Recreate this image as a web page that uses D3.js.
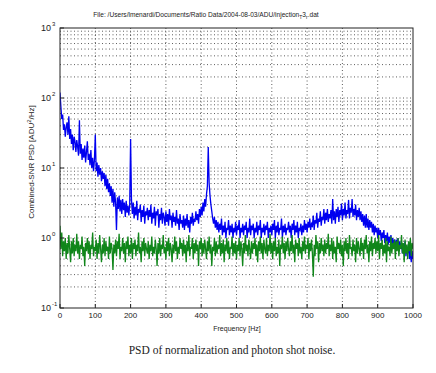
<!DOCTYPE html>
<html>
<head>
<meta charset="utf-8">
<script src="https://cdn.jsdelivr.net/npm/d3@7"></script>
<style>
  body { margin: 0; background: #fff; }
  text { font-family: "Liberation Sans", Arial, sans-serif; fill: #222; }
  .grid line { stroke: #333; stroke-width: 0.8; stroke-dasharray: 1,2.5; }
</style>
</head>
<body>
<svg id="chart" width="436" height="373" viewBox="0 0 436 373"></svg>
<script>
// sampling of the PSD (Hz)
const freqs = d3.range(0, 1000.1, 2.5);

// normalization PSD (blue), one row = 50 Hz
const bluePsd = [
  120,75,50,58,35,42,28,38,45,30,55,26,36,22,30,18,28,24,17,25,
  20,15,48,16,22,13,19,14,21,12,17,24,13,16,11,18,10,14,9,13,
  30,9,12,7.5,11,8,10,6.5,9,7,8.5,5.5,8,5,7,4.5,6,4,5.5,3.2,
  5,2.8,4.5,3.2,1.3,3.8,2.6,4,2.4,3.5,2.2,3.6,2.5,3.2,2,3.4,2.3,2.9,2.1,3,
  26,3.5,2.2,3.2,1.9,2.8,2.1,3.4,1.8,2.6,2.3,3,1.7,2.5,2,2.9,1.6,2.4,2.1,2.7,
  1.8,2.5,2,3,1.6,2.3,1.9,2.8,1.5,2.4,2.1,2.6,1.4,2.2,1.8,2.7,1.6,2.3,2,1.5,
  2.4,1.7,2.2,1.5,2.6,1.8,2.1,1.4,2.3,1.7,2,1.5,2.5,1.6,1.9,1.3,2.2,1.6,1.8,1.4,
  2.1,1.3,1.9,1.5,2.2,1.4,1.8,1.2,2,1.6,2.3,1.5,1.9,1.7,2.4,1.8,2.2,1.6,2.6,2,
  2.8,2.1,3.2,2.4,3.6,2.8,4.2,5.5,20,6,4,3,2.4,1.9,1.6,2,1.4,1.8,1.3,1.7,
  1.2,1.6,1.3,1.9,1.1,1.5,1.2,1.7,1,1.4,1.3,1.8,1.1,1.5,1.2,1.6,1,1.4,1.2,1.7,
  1.1,1.5,1.3,1.8,1,1.4,1.2,1.6,1.1,1.5,1.3,1.7,1,1.4,1.2,1.9,1.1,1.5,1.3,1.6,
  1,1.4,1.2,1.7,1.1,1.5,1.3,1.8,1,1.4,1.2,1.6,1.1,1.5,1.3,1.7,1,1.4,1.2,1.5,
  1.1,1.6,1.3,1.8,1,1.5,1.2,1.7,1.1,1.4,1.3,1.9,1,1.5,1.2,1.6,1.1,1.4,1.3,1.7,
  1.2,1.5,1,1.6,1.3,1.8,1.1,1.5,1.2,1.7,1,1.4,1.3,1.6,1.1,1.5,1.2,1.8,1.3,1.6,
  1.2,1.7,1.4,1.9,1.3,1.6,1.5,2.1,1.3,1.8,1.6,2.3,1.4,1.9,1.7,2.4,1.5,2,1.8,2.6,
  1.6,2.3,1.8,2.6,1.7,2.2,1.9,2.5,1.6,3.6,1.8,2.4,1.6,2.6,2,2.8,1.7,2.5,2.1,3.1,
  1.8,2.6,2.1,3.2,1.9,2.5,2.2,3.5,1.9,2.7,2.3,3.6,2,2.6,2.1,3.0,1.8,2.5,2,2.7,
  1.8,2.4,1.7,2.2,1.5,2.1,1.4,2.2,1.4,1.9,1.3,1.8,1.4,1.7,1.2,1.6,1.1,1.5,1.2,1.4,
  1,1.4,1.1,1.3,0.9,1.2,1,1.3,0.85,1.1,0.9,1.2,0.8,1.05,0.85,1.1,0.75,1,0.8,0.95,
  0.7,0.95,0.75,1,0.65,0.9,0.7,0.85,0.6,0.8,0.65,0.9,0.55,0.75,0.6,0.8,0.5,0.7,0.45,0.65,
  0.5
];

// photon shot noise PSD (green), one row = 50 Hz
const greenPsd = [
  1.5,0.7,1.2,0.55,0.9,0.65,1.0,0.5,0.85,0.6,1.1,0.7,0.45,0.9,0.6,1.0,0.55,0.8,0.65,1.15,
  0.6,0.9,0.5,0.8,0.7,1.05,0.55,0.75,0.4,0.85,0.65,1.0,0.6,0.9,0.5,0.8,0.7,1.2,0.55,0.75,
  0.65,0.95,0.5,0.85,0.6,1.1,0.7,0.45,0.8,0.6,1.0,0.55,0.9,0.65,0.75,0.5,1.05,0.6,0.85,0.7,
  0.35,0.8,0.6,0.95,0.55,0.9,0.7,1.15,0.5,0.75,0.65,1.0,0.6,0.85,0.45,0.9,0.7,1.05,0.55,0.8,
  0.6,1.0,0.5,0.85,0.7,0.95,0.55,0.8,0.65,1.2,0.6,0.75,0.45,0.9,0.65,1.0,0.55,0.85,0.7,0.6,
  0.9,0.5,0.8,0.65,1.05,0.55,0.75,0.6,0.95,0.7,0.4,0.85,0.6,1.0,0.55,0.8,0.7,1.1,0.6,0.75,
  0.5,0.9,0.65,1.0,0.55,0.85,0.7,0.45,0.8,0.6,1.05,0.65,0.9,0.5,0.75,0.6,1.0,0.7,0.85,0.55,
  0.95,0.6,0.8,0.45,0.9,0.65,1.1,0.55,0.75,0.7,1.0,0.5,0.85,0.6,0.95,0.65,0.8,0.4,0.9,0.7,
  1.0,0.55,0.85,0.6,0.95,0.7,0.5,0.9,0.65,1.05,0.6,0.8,0.4,0.75,0.65,1.0,0.55,0.9,0.6,0.8,
  0.7,1.1,0.55,0.85,0.6,0.95,0.45,0.8,0.65,1.0,0.6,0.9,0.5,0.75,0.7,1.05,0.55,0.85,0.6,0.9,
  0.5,0.8,0.65,1.0,0.55,0.9,0.7,0.4,0.85,0.6,1.1,0.65,0.8,0.55,0.95,0.7,0.5,0.9,0.6,0.85,
  0.7,1.0,0.55,0.8,0.45,0.9,0.65,1.05,0.6,0.85,0.5,0.95,0.7,0.6,1.0,0.55,0.8,0.65,1.15,0.6,
  0.85,0.5,0.9,0.65,1.0,0.55,0.75,0.6,0.95,0.4,0.8,0.7,1.05,0.6,0.85,0.5,0.9,0.65,1.0,0.7,
  0.55,0.9,0.65,1.1,0.6,0.8,0.45,0.95,0.7,0.85,0.55,1.0,0.6,0.75,0.5,0.9,0.65,1.05,0.6,0.8,
  0.7,1.0,0.5,0.85,0.65,0.95,0.6,0.28,0.8,0.55,1.1,0.7,0.9,0.45,0.85,0.6,1.0,0.65,0.8,0.55,
  0.95,0.6,0.85,0.7,1.15,0.55,0.8,0.65,1.0,0.5,0.9,0.6,0.75,0.45,1.05,0.7,0.85,0.6,0.95,0.55,
  0.8,0.4,0.9,0.65,1.0,0.6,0.85,0.5,1.1,0.7,0.75,0.55,0.95,0.65,0.8,0.45,1.0,0.6,0.9,0.7,
  0.55,1.0,0.65,0.85,0.5,0.95,0.7,1.1,0.6,0.8,0.45,0.9,0.65,1.05,0.55,0.85,0.7,1.0,0.6,0.9,
  0.65,1.1,0.5,0.85,0.7,0.95,0.55,0.8,0.6,1.0,0.45,0.9,0.65,0.75,0.55,1.05,0.6,0.85,0.7,0.95,
  0.5,0.9,0.65,1.0,0.55,0.8,0.7,1.1,0.6,0.85,0.45,0.95,0.6,0.8,0.5,0.9,0.65,1.0,0.55,0.85,
  0.7
];

const xTicks = [0,100,200,300,400,500,600,700,800,900,1000];
const yDecades = [-1, 0, 1, 2, 3];

const svg = d3.select("#chart");
const mLeft = 60, mRight = 413, mTop = 28, mBottom = 308;

const x = d3.scaleLinear().domain([0, 1000]).range([mLeft, mRight]);
const y = d3.scaleLog().domain([0.1, 1000]).range([mBottom, mTop]);

// minor + major log grid
const yGridVals = [];
yDecades.slice(0, -1).forEach(e => {
    for (let m = 1; m < 10; m++) yGridVals.push(m * Math.pow(10, e));
});

const grid = svg.append("g").attr("class", "grid");
grid.selectAll(".hg")
    .data(yGridVals.filter(v => v > 0.1))
    .enter().append("line")
    .attr("x1", mLeft).attr("x2", mRight)
    .attr("y1", d => y(d)).attr("y2", d => y(d));
grid.selectAll(".vg")
    .data(xTicks.slice(1, -1))
    .enter().append("line")
    .attr("y1", mTop).attr("y2", mBottom)
    .attr("x1", d => x(d)).attr("x2", d => x(d));

// lines
svg.append("clipPath").attr("id", "clip")
    .append("rect").attr("x", mLeft).attr("y", mTop)
    .attr("width", mRight - mLeft).attr("height", mBottom - mTop);

const line = d3.line()
    .x((d, i) => x(freqs[i]))
    .y(d => y(d));

const plot = svg.append("g").attr("clip-path", "url(#clip)");
plot.append("path").datum(bluePsd)
    .attr("d", line).attr("fill", "none")
    .attr("stroke", "#0000f0").attr("stroke-width", 1.3);
plot.append("path").datum(greenPsd)
    .attr("d", line).attr("fill", "none")
    .attr("stroke", "#10861a").attr("stroke-width", 1.3);

// axes box
svg.append("rect")
    .attr("x", mLeft).attr("y", mTop)
    .attr("width", mRight - mLeft).attr("height", mBottom - mTop)
    .attr("fill", "none").attr("stroke", "#222").attr("stroke-width", 1);

// x tick marks + labels
const xt = svg.append("g");
xt.selectAll("line").data(xTicks).enter().append("line")
    .attr("x1", d => x(d)).attr("x2", d => x(d))
    .attr("y1", mBottom).attr("y2", mBottom - 4)
    .attr("stroke", "#222");
xt.selectAll("text").data(xTicks).enter().append("text")
    .attr("x", d => x(d)).attr("y", 318)
    .attr("text-anchor", "middle").attr("font-size", 8)
    .text(d => d);

// y tick labels 10^n
const yt = svg.append("g");
yDecades.forEach(e => {
    const t = yt.append("text")
        .attr("x", 41).attr("y", y(Math.pow(10, e)) + 3)
        .attr("font-size", 9);
    t.append("tspan").text("10");
    t.append("tspan").attr("dy", -5).attr("dx", 1).attr("font-size", 6).text(e);
    yt.append("line")
        .attr("x1", mLeft).attr("x2", mLeft + 4)
        .attr("y1", y(Math.pow(10, e))).attr("y2", y(Math.pow(10, e)))
        .attr("stroke", "#222");
});

// title
const title = svg.append("text")
    .attr("x", 206).attr("y", 17)
    .attr("text-anchor", "middle")
    .attr("font-size", 6.6);
title.append("tspan").text("File: /Users/lmenardi/Documents/Ratio Data/2004-08-03/ADU/injection");
title.append("tspan").attr("dy", 2).attr("font-size", 5).text("T");
title.append("tspan").attr("dy", -2).text("3");
title.append("tspan").attr("dy", 2).attr("font-size", 5).text("r");
title.append("tspan").attr("dy", -2).text(".dat");

// axis labels
svg.append("text")
    .attr("x", 237).attr("y", 331)
    .attr("text-anchor", "middle").attr("font-size", 7)
    .text("Frequency [Hz]");

const ylab = svg.append("text")
    .attr("transform", "translate(34,162) rotate(-90)")
    .attr("text-anchor", "middle").attr("font-size", 8);
ylab.append("tspan").text("Combined-SNR PSD [ADU");
ylab.append("tspan").attr("dy", -3).attr("font-size", 6).text("2");
ylab.append("tspan").attr("dy", 3).text("/Hz]");

// caption
svg.append("text")
    .attr("x", 232).attr("y", 354)
    .attr("text-anchor", "middle")
    .style("font-family", "'Liberation Serif', 'Times New Roman', serif")
    .attr("font-size", 11.5)
    .text("PSD of normalization and photon shot noise.");
</script>
</body>
</html>
